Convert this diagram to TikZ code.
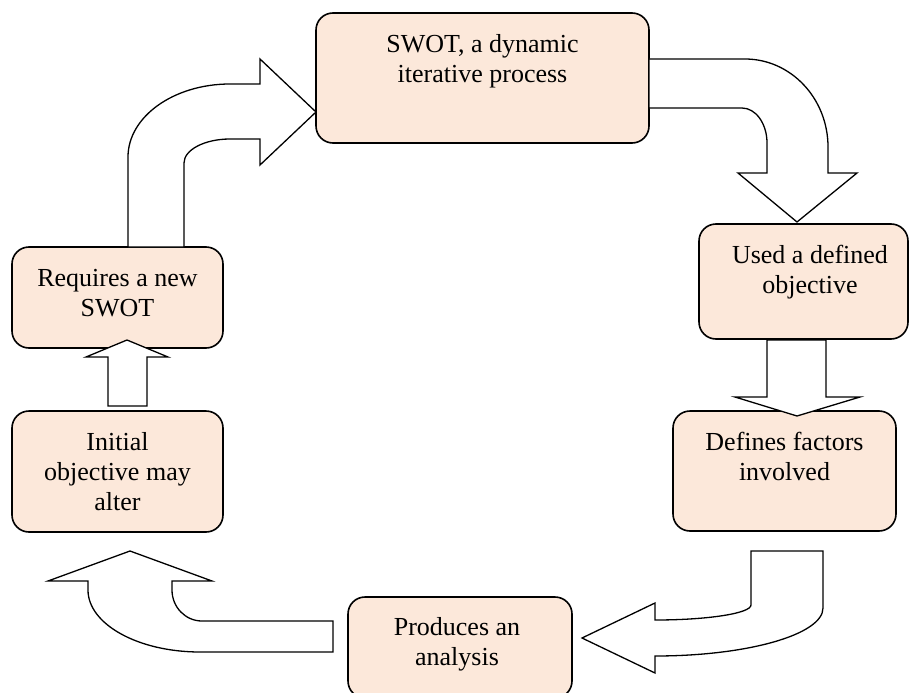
\documentclass[tikz,border=0pt]{standalone}
\usepackage{fontspec}
\setmainfont{Liberation Serif}
\definecolor{peach}{HTML}{FCE8DA}
\begin{document}
\begin{tikzpicture}[x=1pt,y=-1pt,
  box/.style={draw=black, line width=1.6pt, fill=peach, rounded corners=17pt,
              minimum width=#1, inner sep=0pt, outer sep=0pt},
  txt/.style={anchor=north, align=center, inner sep=0pt, outer sep=0pt,
              font=\fontsize{26}{30}\selectfont},
  blockarrow/.style={draw=black, line width=1.3pt, fill=white, line join=miter}]
\useasboundingbox (0,0) rectangle (910,693);
\clip (0,0) rectangle (910,693);
\fill[white] (0,0) rectangle (910,693);

% boxes
\node[box=333pt, minimum height=130pt] (swot) at (482.5,78) {};
\node[box=209pt, minimum height=115pt] (used) at (803.5,281.5) {};
\node[box=223pt, minimum height=120pt] (defines) at (784.5,471) {};
\node[box=224pt, minimum height=101pt] (produces) at (460,647.5) {};
\node[box=211pt, minimum height=121pt] (initial) at (117.5,471.5) {};
\node[box=211pt, minimum height=101pt] (requires) at (117.5,297.5) {};

% texts
\node[txt] (swott) at (482.5,31) {\strut SWOT, a dynamic\\\strut iterative process};
\node[txt] (usedt) at (810,242) {\strut Used a defined\\\strut objective};
\node[txt] (definest) at (784.5,429) {\strut Defines factors\\\strut involved};
\node[txt] (producest) at (457,614) {\strut Produces an\\\strut analysis};
\node[txt] (initialt) at (117.5,429) {\strut Initial\\\strut objective may\\\strut alter};
\node[txt] (requirest) at (117.5,265) {\strut Requires a new\\\strut SWOT};

% block arrows
% requires -> swot
\draw[blockarrow] (128,247) -- (128,157)
  .. controls (128,116.7) and (173.7,84) .. (230,84)
  -- (260,84) -- (260,59) -- (316,112) -- (260,165) -- (260,139) -- (230,139)
  .. controls (204.6,139) and (184,149.8) .. (184,163)
  -- (184,247) -- cycle;
% swot -> used
\draw[blockarrow] (649,59) -- (745,59)
  .. controls (790.8,59) and (828,98.4) .. (828,147)
  -- (828,173) -- (857,173) -- (797,222) -- (738,173) -- (767,173) -- (767,143)
  .. controls (767,123.7) and (755.8,108) .. (742,108)
  -- (649,108) -- cycle;
% used -> defines
\draw[blockarrow] (767,340) -- (767,397) -- (735,397) -- (797,416)
  -- (860,397) -- (826,397) -- (826,340) -- cycle;
% defines -> produces
\draw[blockarrow] (751,551) -- (823,551) -- (823,608)
  .. controls (823,634.5) and (747.7,656) .. (655,656)
  -- (655,673) -- (582,638) -- (655,603) -- (655,620)
  .. controls (708,620) and (751,613.3) .. (751,605) -- cycle;
% produces -> initial
\draw[blockarrow] (333,621) -- (333,652) -- (200,652)
  .. controls (138.2,652) and (88,624.2) .. (88,590)
  -- (88,581) -- (48,581) -- (130,551) -- (212,581) -- (172,581) -- (172,590)
  .. controls (172,607.1) and (185.4,621) .. (202,621) -- cycle;
% initial -> requires
\draw[blockarrow] (108,406) -- (108,357) -- (86,357) -- (127,340)
  -- (168,357) -- (147,357) -- (147,406) -- cycle;
\end{tikzpicture}
\end{document}
